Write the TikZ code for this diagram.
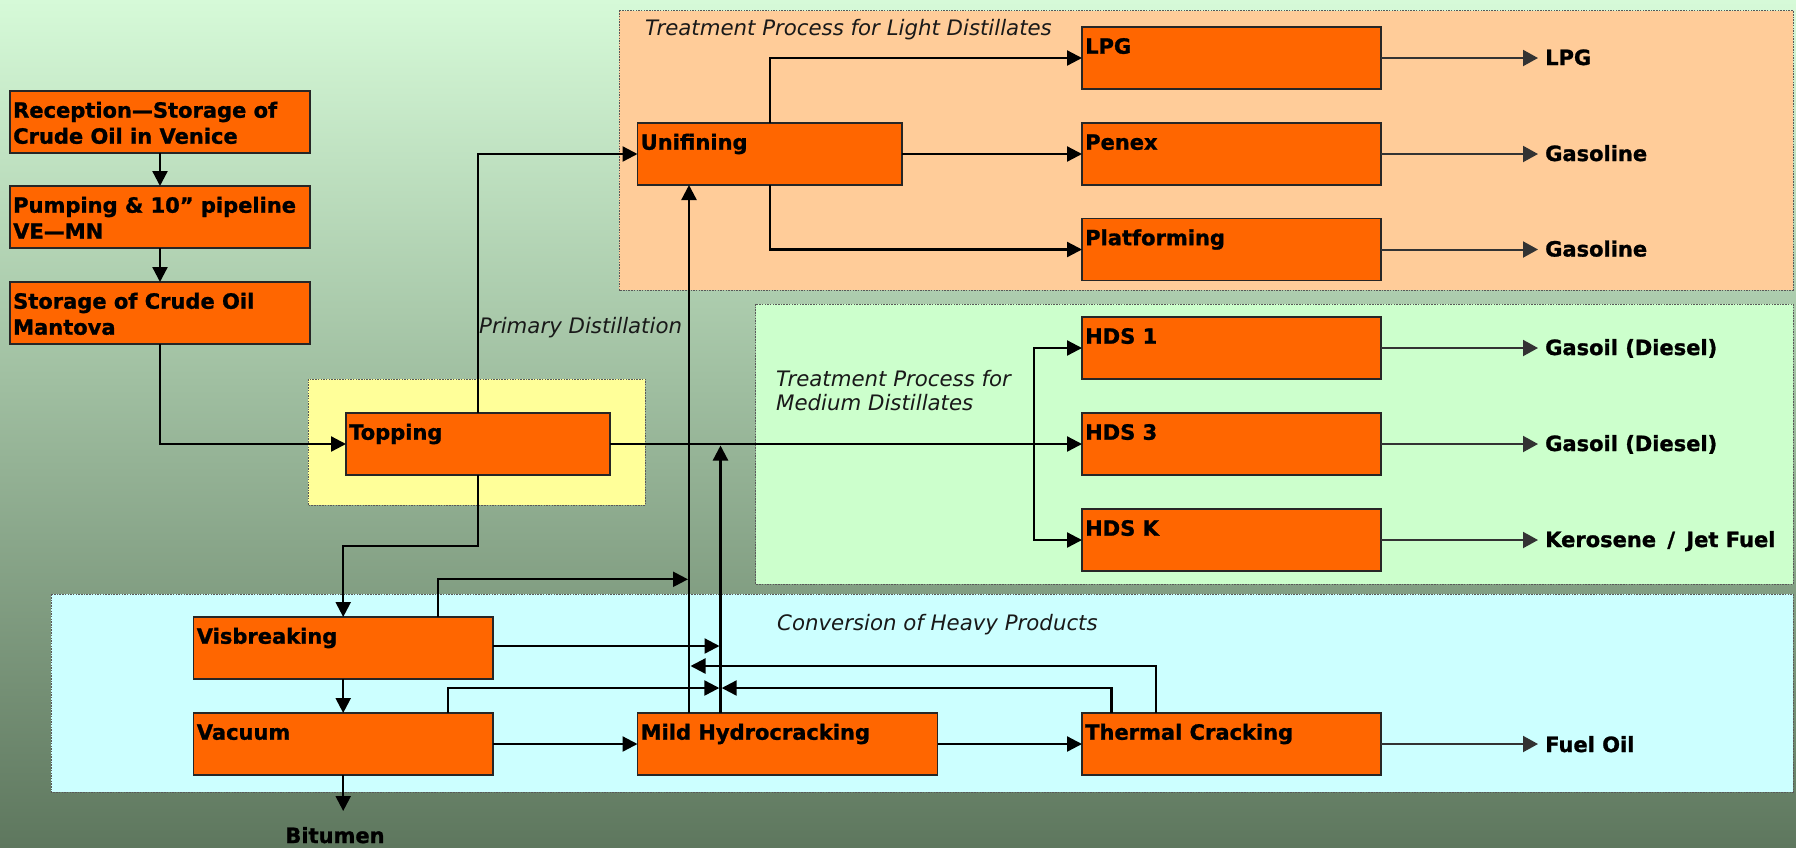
\documentclass[tikz,border=0pt]{standalone}
\usepackage{fontspec}
\setmainfont{DejaVu Sans}[BoldFeatures={FakeBold=1.2}]
\usetikzlibrary{arrows.meta,calc}
\definecolor{bgtop}{RGB}{214,250,216}
\definecolor{bgbot}{RGB}{94,119,94}
\definecolor{boxor}{RGB}{255,102,0}
\definecolor{pnlight}{RGB}{255,204,153}
\definecolor{pnmed}{RGB}{204,255,204}
\definecolor{pnconv}{RGB}{204,255,255}
\definecolor{pnyel}{RGB}{255,255,153}
\definecolor{outgray}{RGB}{51,51,51}
\newcommand{\topstr}{\rule{0pt}{20pt}}
\begin{document}
\begin{tikzpicture}[x=1pt,y=-1pt,
  box/.style={draw=black!85, line width=1.4pt, fill=boxor, inner sep=0pt, outer sep=0pt, minimum width=300pt, minimum height=62pt},
  lbl/.style={font=\bfseries\fontsize{21}{26}\selectfont, inner sep=0pt, anchor=north west, align=left},
  plbl/.style={font=\itshape\fontsize{21.3}{24}\selectfont, inner sep=0pt, anchor=north west, align=left, text=black!90},
  outlbl/.style={font=\bfseries\fontsize{21}{26}\selectfont, inner sep=0pt, anchor=base west},
  panel/.style={draw=black!65, line width=0.9pt, dash pattern=on 1.5pt off 1.2pt},
  conn/.style={draw=black, line width=2.3pt, -{Triangle[length=15pt,width=15pt]}},
  outarr/.style={draw=outgray, line width=2pt, -{Triangle[length=15pt,width=16pt]}},
]
\useasboundingbox (0,0) rectangle (1796,847);
\shade[top color=bgtop, bottom color=bgbot] (0,0) rectangle (1796,847);

% panels
\draw[panel, fill=pnlight] (619,10.5) rectangle (1793,290);
\draw[panel, fill=pnyel] (308,379) rectangle (645,505.3);
\draw[panel, fill=pnmed] (755.6,304) rectangle (1793,584);
\draw[panel, fill=pnconv] (51.3,594.3) rectangle (1793,792);

% panel labels
\node[plbl] (plight) at (645,15) {\topstr Treatment Process for Light Distillates};
\node[plbl] (pprim) at (479,313) {\topstr Primary Distillation};
\node[plbl] (pmed) at (776,366) {\topstr Treatment Process for\\Medium Distillates};
\node[plbl] (pconv) at (777,610) {\topstr Conversion of Heavy Products};

% boxes
\node[box] (rec) at (160,122) {};
\node[box] (pump) at (160,217) {};
\node[box] (stor) at (160,313) {};
\node[box, minimum width=264pt] (top) at (478,444) {};
\node[box, minimum width=264.5pt] (unif) at (769.75,154) {};
\node[box, minimum width=299pt] (lpg) at (1231.5,58) {};
\node[box, minimum width=299pt] (penex) at (1231.5,154) {};
\node[box, minimum width=299pt] (plat) at (1231.5,249.5) {};
\node[box, minimum width=299pt] (hds1) at (1231.5,348) {};
\node[box, minimum width=299pt] (hds3) at (1231.5,444) {};
\node[box, minimum width=299pt] (hdsk) at (1231.5,540) {};
\node[box, minimum width=299.2pt] (visb) at (343.2,648) {};
\node[box, minimum width=299.2pt] (vac) at (343.2,744) {};
\node[box] (mhc) at (787.5,744) {};
\node[box, minimum width=299pt] (tc) at (1231.5,744) {};

% box labels
\node[lbl] (lrec) at ([shift={(3,6.5)}]rec.north west) {\topstr Reception—Storage of\\Crude Oil in Venice};
\node[lbl] (lpump) at ([shift={(3,6.5)}]pump.north west) {\topstr Pumping \& 10” pipeline\\VE—MN};
\node[lbl] (lstor) at ([shift={(3,6.5)}]stor.north west) {\topstr Storage of Crude Oil\\Mantova};
\node[lbl] (ltop) at ([shift={(3,6.5)}]top.north west) {\topstr Topping};
\node[lbl] (lunif) at ([shift={(3,6.5)}]unif.north west) {\topstr Unifining};
\node[lbl] (llpg) at ([shift={(3,6.5)}]lpg.north west) {\topstr LPG};
\node[lbl] (lpenex) at ([shift={(3,6.5)}]penex.north west) {\topstr Penex};
\node[lbl] (lplat) at ([shift={(3,6.5)}]plat.north west) {\topstr Platforming};
\node[lbl] (lhds1) at ([shift={(3,6.5)}]hds1.north west) {\topstr HDS 1};
\node[lbl] (lhds3) at ([shift={(3,6.5)}]hds3.north west) {\topstr HDS 3};
\node[lbl] (lhdsk) at ([shift={(3,6.5)}]hdsk.north west) {\topstr HDS K};
\node[lbl] (lvisb) at ([shift={(3,6.5)}]visb.north west) {\topstr Visbreaking};
\node[lbl] (lvac) at ([shift={(3,6.5)}]vac.north west) {\topstr Vacuum};
\node[lbl] (lmhc) at ([shift={(3,6.5)}]mhc.north west) {\topstr Mild Hydrocracking};
\node[lbl] (ltc) at ([shift={(3,6.5)}]tc.north west) {\topstr Thermal Cracking};

% helper coordinates
\coordinate (xa) at (689,0);
\coordinate (xb) at (720.5,0);
\coordinate (xbtip) at (720.5,445.5);
\coordinate (br) at (1034,444);
\coordinate (bitend) at (343.2,811);
\coordinate (vt) at (437.7,0);
\coordinate (vtend) at (688,579.3);
\coordinate (vbend) at (719.5,646);
\coordinate (tca) at (1156,666);
\coordinate (tcaend) at (690.5,666);
\coordinate (vat) at (447.7,688);
\coordinate (vatend) at (719.3,688);
\coordinate (tcb) at (1111.5,688);
\coordinate (tcbend) at (721.7,688);
\coordinate (oend) at (1538,0);
\coordinate (olbl) at (1545,0);

% main connectors
\draw[conn] (rec.south) -- (pump.north);
\draw[conn] (pump.south) -- (stor.north);
\draw[conn] (stor.south) |- (top.west);
\draw[conn] (top.north) |- (unif.west);
\draw[conn] (unif.north) |- (lpg.west);
\draw[conn] (unif.east) -- (penex.west);
\draw[conn] (unif.south) |- (plat.west);
\draw[conn] (top.east) -- (hds3.west);
\draw[conn] (br) |- (hds1.west);
\draw[conn] (br) |- (hdsk.west);
\draw[conn] (top.south) -- ++(0,71) -| (visb.north);
\draw[conn] (visb.south) -- (vac.north);
\draw[conn] (vac.south) -- (bitend);
\draw[conn] (mhc.north -| xa) -- (unif.south -| xa);
\draw[conn] (mhc.north -| xb) -- (xbtip);
\draw[conn] (visb.north -| vt) |- (vtend);
\draw[conn] (vbend -| visb.east) -- (vbend);
\draw[conn] (tc.north -| tca) |- (tcaend);
\draw[conn] (vac.north -| vat) |- (vatend);
\draw[conn] (tc.north -| tcb) |- (tcbend);
\draw[conn] (vac.east) -- (mhc.west);
\draw[conn] (mhc.east) -- (tc.west);

% output arrows
\draw[outarr] (lpg.east) -- (lpg.east -| oend);
\draw[outarr] (penex.east) -- (penex.east -| oend);
\draw[outarr] (plat.east) -- (plat.east -| oend);
\draw[outarr] (hds1.east) -- (hds1.east -| oend);
\draw[outarr] (hds3.east) -- (hds3.east -| oend);
\draw[outarr] (hdsk.east) -- (hdsk.east -| oend);
\draw[outarr] (tc.east) -- (tc.east -| oend);

% output labels
\node[outlbl] (olpg) at ($(lpg.east -| olbl)+(0,7)$) {LPG};
\node[outlbl] (openex) at ($(penex.east -| olbl)+(0,7)$) {Gasoline};
\node[outlbl] (oplat) at ($(plat.east -| olbl)+(0,7)$) {Gasoline};
\node[outlbl] (ohds1) at ($(hds1.east -| olbl)+(0,7)$) {Gasoil (Diesel)};
\node[outlbl] (ohds3) at ($(hds3.east -| olbl)+(0,7)$) {Gasoil (Diesel)};
\node[outlbl] (ohdsk) at ($(hdsk.east -| olbl)+(0,7)$) {Kerosene\hspace{4pt} /\hspace{4pt} Jet Fuel};
\node[outlbl] (otc) at ($(tc.east -| olbl)+(0,8)$) {Fuel Oil};
\node[outlbl, anchor=base] (obit) at (335,843) {Bitumen};
\end{tikzpicture}
\end{document}
